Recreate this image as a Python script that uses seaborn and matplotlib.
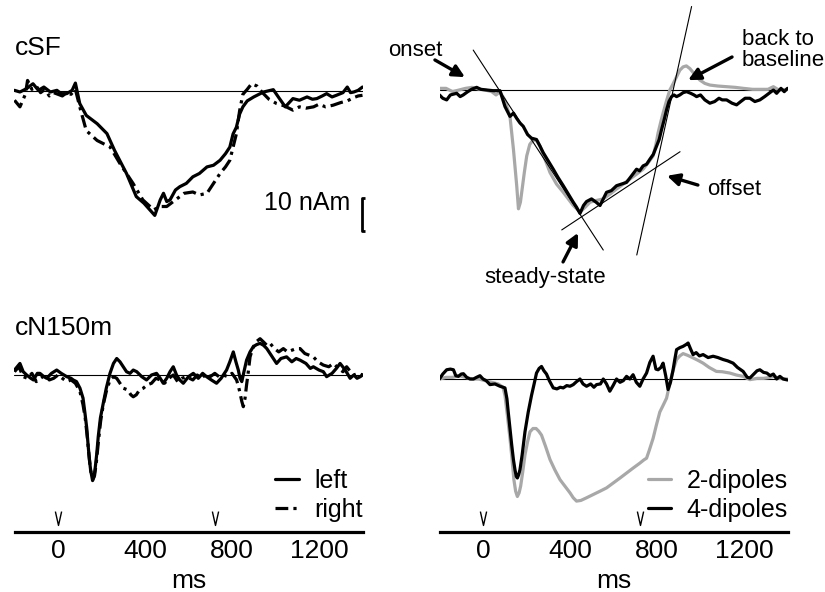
import numpy as np
import matplotlib
matplotlib.use('Agg')
import matplotlib.pyplot as plt
from matplotlib.path import Path
import seaborn as sns

# ---- data (ms, nAm) ----
csf_left_t = [-200, -175, -145, -115, -90, -65, -35, -5, 15, 40, 65, 80, 100, 130, 180, 225, 260, 315, 360, 395,
              445, 470, 485, 500, 515, 540, 560, 590, 620, 650, 685, 715, 745, 770, 790, 805, 820, 835, 850, 870,
              900, 945, 990, 1015, 1045, 1080, 1110, 1145, 1170, 1190, 1215, 1235, 1260, 1280, 1310, 1330, 1345,
              1360, 1380, 1400]
csf_left_v = [0.2, -0.3, 0.7, 2.2, 0.2, 1.2, -0.3, 0.2, -0.8, -0.8, 0.2, 2.4, -3.8, -7.4, -9.9, -12.9, -18, -25, -32, -34,
              -37.7, -33, -31, -33.5, -33, -30, -29, -28, -26, -25, -23, -22.5, -21, -19, -17, -13, -11, -7, -4.8, -3,
              -1.8, -0.3, 0.4, -2, -4.8, -2.3, -2.8, -1.8, -2.5, -2.3, -1.5, -0.8, -1.8, -1.3, -0.5, 1.2, -0.5,
              -0.3, 0.2, 1.2]

csf_right_t = [-200, -175, -150, -140, -120, -100, -80, -60, -40, -20, 0, 20, 40, 60, 80, 100, 130, 180, 240, 285,
               345, 390, 440, 470, 500, 540, 580, 620, 650, 685, 715, 745, 770, 790, 805, 820, 835, 850, 870, 890,
               915, 940, 970, 1005, 1040, 1080, 1110, 1140, 1175, 1200, 1230, 1265, 1300, 1330, 1360, 1380, 1400]
csf_right_v = [-2.8, -4.8, -1, 3.2, 0.5, 1.5, -0.5, 0.5, -1.5, -0.5, -1, -1.5, -0.5, -1, 0.5, -4.8, -12, -15, -17, -22,
               -28, -33, -36, -35, -35, -33, -31, -30.6, -31.5, -31, -28, -25, -23, -21, -17, -13, -6, -1, 0.5, 2.2,
               1.5, -0.5, -2.5, -3.8, -4.5, -5.8, -4.8, -5.2, -4.8, -4.0, -4.8, -4.3, -3.5, -3.0, -2.0, -1.5, -1.3]

csf_4dip_t = [-200, -185, -167, -150, -121, -105, -91, -70, -50, -29, -10, 17, 45, 78, 101, 124, 140, 155, 170, 185,
              205, 223, 246, 262, 277, 300, 323, 345, 369, 392, 415, 430, 446, 462, 476, 499, 520, 538, 553, 568,
              590, 614, 637, 660, 683, 706, 720, 736, 752, 767, 783, 798, 810, 821, 833, 844, 855, 867, 878, 890,
              905, 920, 936, 955, 970, 982, 1000, 1020, 1043, 1065, 1085, 1100, 1120, 1145, 1166, 1185, 1205, 1227,
              1250, 1273, 1295, 1315, 1335, 1350, 1370, 1385, 1400]
csf_4dip_v = [-1.5, -2.5, -3, -1.5, -1, -2, -1.5, -0.5, 0.3, 0.8, 0.2, 0, -0.2, -0.2, -5, -8, -7, -8.6, -10, -11,
              -13.5, -14.6, -15, -17, -19, -21.5, -24, -26.5, -29, -31.5, -34, -35.5, -37.4, -35, -33.8, -33, -34, -35, -33, -31,
              -30.5, -29, -28.5, -28, -26, -24, -24.5, -23, -22.5, -21, -19.5, -17, -15, -12, -9, -6, -3.5, -2, -1.5, -2,
              -1.5, -0.8, -0.5, -1, -1.5, -2, -1.5, -3, -4, -3.5, -2.5, -3, -3, -4, -4.5, -3.5, -2.5, -2.5,
              -3.5, -3, -2, -1, 0, -1, 0.5, -0.5, 0.5]

csf_2dip_t = [-200, -170, -140, -110, -80, -50, -20, 10, 40, 60, 78, 100, 124, 140, 155, 163, 172, 180, 190, 201,
              215, 232, 248, 262, 285, 308, 338, 369, 392, 415, 446, 470, 492, 520, 553, 585, 614, 645, 675, 706,
              736, 760, 782, 795, 805, 818, 828, 845, 859, 875, 890, 905, 920, 935, 951, 970, 997, 1020, 1043, 1080,
              1120, 1160, 1197, 1240, 1280, 1310, 1335, 1360, 1400]
csf_2dip_v = [0.5, 0.5, -0.5, 0, 0.5, 0.8, 0.3, 0, -0.5, -1.5, -0.5, -3, -8, -18, -29, -36, -34, -30, -25, -20,
              -16.5, -15, -15.5, -17, -21, -25, -28.5, -31, -33, -35, -37, -35.5, -34, -33.5, -33, -31.5, -30, -28.5, -27, -25.5,
              -24, -22, -20, -16.5, -13, -9.5, -7, -3, 0, 2, 4, 6, 7, 7.3, 6.5, 5, 3, 2, 1.5, 1.2,
              1, 0.8, 0.5, 0.2, 0.2, 0.2, 1, 0, 0.2]

n150_left_t = [-200, -175, -160, -144, -125, -113, -95, -83, -65, -52, -30, -6, 15, 40, 60, 70, 85, 101, 115, 124,
               132, 139, 145, 150, 159, 165, 170, 178, 185, 195, 208, 222, 239, 255, 270, 285, 300, 315, 331, 346,
               362, 385, 407, 430, 453, 470, 484, 500, 515, 530, 545, 560, 576, 600, 622, 645, 665, 683, 705, 729,
               750, 775, 790, 806, 818, 829, 837, 845, 855, 867, 883, 898, 913, 929, 945, 960, 980, 1005, 1025, 1051,
               1075, 1095, 1113, 1140, 1160, 1174, 1200, 1220, 1235, 1260, 1280, 1297, 1315, 1330, 1343, 1360, 1375,
               1390, 1400]
n150_left_v = [1.5, 3.5, 1, 0, -1, -1.5, 0.5, 0.5, -0.5, -1, 0.5, 1.5, 0.5, -0.5, -1, -1.5, -2, -4, -7, -11.6,
               -16, -21.7, -26, -28.8, -32, -31, -28.8, -24, -18.7, -13, -8.6, -4, 0.5, 3.5, 5, 4, 2.5, 1, 0.5, 1.5,
               1, -0.5, -1.5, 0, 0.5, -1, -2.5, -1, 1, 2.5, 0, -1.5, -2.5, -0.5, 0.5, -1, 0.5, -0.5, -1.5, -2.5,
               -1, 1.5, 4, 7, 4, 1.5, -1, -2, 1, 4.5, 7, 8.6, 9.2, 9.6, 9, 8, 6, 3.5, 5, 5.5,
               4, 5, 4.5, 3.5, 2, 2.5, 1.5, 1, -0.5, 0.5, 2, 3.5, 2, 0.5, -1, 0, -1,
               -0.5, 0]

n150_right_t = [-200, -180, -160, -140, -120, -100, -80, -60, -40, -20, 0, 20, 40, 60, 80, 101, 115, 125, 135, 142,
                150, 160, 168, 177, 186, 196, 208, 222, 239, 255, 270, 285, 300, 320, 335, 346, 360, 375, 392, 410,
                430, 450, 470, 490, 510, 530, 550, 570, 590, 620, 640, 660, 683, 700, 721, 740, 760, 780, 800, 821,
                830, 837, 845, 852, 860, 867, 875, 883, 895, 910, 929, 945, 960, 975, 995, 1015, 1036, 1055, 1075, 1095,
                1113, 1135, 1155, 1174, 1195, 1220, 1245, 1266, 1290, 1310, 1327, 1345, 1360, 1380, 1400]
n150_right_v = [1, 2.5, -0.5, -1, 0.5, -2, -1, 0, -1.5, -1, 0, -1, -2, -1.5, -2.5, -5, -9, -13, -19, -24,
                -29, -31.5, -30.5, -26, -20, -14, -9, -5, -1.5, -0.5, -1, -2.5, -4, -4.5, -6, -6.6, -6, -4.5, -4, -3,
                -2.5, -1, -1.5, -2.5, -1, 0, -2, -1, -0.5, -1.5, 0, -1, 0.5, -0.5, 0.5, -0.5, 0, -0.5, 0.5, -1.5,
                -3.5, -5.5, -8, -9.6, -7, -3, 1, 5.5, 8, 10, 11, 10, 9, 9.6, 8, 7, 8, 7, 7.5, 8,
                8, 6.5, 6, 5.5, 4, 3, 2.5, 3.5, 2, 1, 2.5, 1, 0, 0.5, 0]

n150_4dip_t = [-200, -185, -167, -150, -136, -125, -113, -100, -90, -75, -60, -44, -30, -14, 0, 15, 32, 55, 78, 92,
               101, 110, 116, 124, 132, 140, 147, 153, 158, 164, 170, 180, 193, 208, 223, 235, 246, 258, 269, 280,
               292, 305, 323, 340, 355, 369, 385, 400, 415, 430, 446, 460, 476, 495, 510, 522, 540, 553, 568, 583,
               598, 614, 630, 645, 660, 675, 690, 705, 721, 736, 752, 767, 782, 795, 805, 818, 828, 840, 851, 862,
               874, 882, 890, 905, 920, 935, 943, 955, 966, 980, 995, 1012, 1035, 1058, 1080, 1104, 1125, 1150, 1170,
               1196, 1215, 1227, 1245, 1260, 1273, 1290, 1305, 1320, 1335, 1350, 1365, 1380, 1400]
n150_4dip_v = [0, 1.5, 2.8, 3, 2.8, 1, 0.8, 1.5, 1.6, 0.5, 0, 0, 0.5, 1, 0, -0.5, -1.7, -1.5, -2.2, -2.5,
               -2.7, -6, -10, -15, -20, -24.5, -27.5, -29.5, -30, -29, -27.5, -23, -16, -10, -5, -1.5, 1.8, 3.2, 3.8, 2.5,
               1.5, -0.5, -2.7, -3, -2.5, -2.7, -2, -2.2, -1.7, -0.8, 0, -1.5, -2.2, -1.5, -2.5, -1.7, -1.5, 0, -1.5, -3.7,
               -2, 0, -1, -0.5, 0.8, 0, 1.3, -1, -2.2, 0, 1.8, 5, 6.9, 3, 2.8, 3.5, 4.8, 1, -3.2, -1,
               2.8, 6, 8.9, 9.5, 9.9, 10.5, 10.9, 9, 7.4, 8, 7, 7.4, 6.5, 6.9, 6.5, 5.9, 5.5, 4.8, 3.5,
               2.3, 0.5, 0.3, 1.5, 2.5, 2.8, 2, 1.8, 1, 1.5, 0, 0.8, 0, -0.3]

n150_2dip_t = [-200, -170, -140, -110, -80, -50, -20, 10, 40, 70, 92, 101, 112, 124, 133, 142, 150, 158, 166, 173,
               183, 193, 205, 216, 230, 244, 256, 269, 288, 308, 330, 354, 377, 400, 415, 430, 450, 476, 507, 538,
               568, 599, 630, 660, 690, 721, 740, 752, 765, 782, 797, 813, 828, 844, 855, 867, 878, 890, 905, 920,
               940, 966, 990, 1012, 1040, 1073, 1100, 1135, 1165, 1196, 1227, 1260, 1290, 1320, 1340, 1360, 1400]
n150_2dip_v = [0, 0.5, 0.5, 1, 0.5, 0, 0, -0.5, -1, -1.5, -2.5, -5, -11, -18, -24, -30.5, -34, -35.6, -34.5, -32.5,
               -28, -23, -19, -16, -15, -15, -15.8, -17, -20.5, -24.4, -27.5, -30.5, -32.5, -34.5, -36, -37, -36.8, -36, -35, -34,
               -33, -31.5, -30, -28.5, -27, -25.5, -24.5, -24, -21.5, -18, -14, -10, -8, -5.8, -2.5, 0.8, 3.5, 5.9, 7, 7.7,
               7.2, 6.4, 5.6, 4.8, 3.5, 2.3, 2.2, 1.8, 1.2, 0.8, -0.2, 0.2, 0.2, 0.5, 0.8, 0.2, 0]

# tangent lines used to define the response phases (ms, nAm)
onset_line_t, onset_line_v = [-45, 553], [12.1, -48.5]
steady_line_t, steady_line_v = [362, 906], [-42.4, -18.7]
offset_line_t, offset_line_v = [959, 707], [25.3, -50]

stim_times = [0, 720]
scalebar_nAm = 10
xticks = [0, 400, 800, 1200]

W, H = 825, 592
sns.set_style('white')
plt.rcParams['font.family'] = ['Liberation Sans', 'DejaVu Sans']
plt.rcParams['text.color'] = 'black'
plt.rcParams['axes.labelcolor'] = 'black'
plt.rcParams['xtick.color'] = 'black'

fig = plt.figure(figsize=(W / 100, H / 100), dpi=100)


def rect(x0, y0, x1, y1):
    return [x0 / W, 1 - y1 / H, (x1 - x0) / W, (y1 - y0) / H]


gray = '#a8a8a8'
lw = 2.3
dashdot = (0, (4, 1.6, 1, 1.6))
v_marker = Path([(-0.45, 1), (0, -1), (0.45, 1)], [Path.MOVETO, Path.LINETO, Path.LINETO])

ax_tl = fig.add_axes(rect(14.5, 0, 362.5, 290))
ax_tr = fig.add_axes(rect(439.5, 0, 787.5, 290))
ax_bl = fig.add_axes(rect(14.5, 330, 362.5, 532))
ax_br = fig.add_axes(rect(439.5, 330, 787.5, 532))

# cSF left panel
sns.lineplot(x=csf_right_t, y=csf_right_v, ax=ax_tl, color='black', linewidth=lw, linestyle=dashdot)
sns.lineplot(x=csf_left_t, y=csf_left_v, ax=ax_tl, color='black', linewidth=lw)

# cSF right panel
sns.lineplot(x=csf_2dip_t, y=csf_2dip_v, ax=ax_tr, color=gray, linewidth=lw)
sns.lineplot(x=csf_4dip_t, y=csf_4dip_v, ax=ax_tr, color='black', linewidth=lw)
for lt, lv in [(onset_line_t, onset_line_v), (steady_line_t, steady_line_v), (offset_line_t, offset_line_v)]:
    ax_tr.plot(lt, lv, color='black', lw=0.8, clip_on=False)

# cN150m panels
sns.lineplot(x=n150_left_t, y=n150_left_v, ax=ax_bl, color='black', linewidth=lw, label='left')
sns.lineplot(x=n150_right_t, y=n150_right_v, ax=ax_bl, color='black', linewidth=lw, linestyle=dashdot, label='right')
sns.lineplot(x=n150_2dip_t, y=n150_2dip_v, ax=ax_br, color=gray, linewidth=lw, label='2-dipoles')
sns.lineplot(x=n150_4dip_t, y=n150_4dip_v, ax=ax_br, color='black', linewidth=lw, label='4-dipoles')

ax_tl.set_ylim((91 - 290) / 3.3, 91 / 3.3)
ax_tr.set_ylim((90 - 290) / 3.3, 90 / 3.3)
ax_bl.set_ylim((375 - 532) / 3.3, (375 - 330) / 3.3)
ax_br.set_ylim((379 - 532) / 3.3, (379 - 330) / 3.3)

for ax in (ax_tl, ax_tr, ax_bl, ax_br):
    ax.set_xlim(-200, 1400)
    ax.axhline(0, color='black', lw=0.8, zorder=1)
    for s in ('left', 'right', 'top'):
        ax.spines[s].set_visible(False)
    ax.set_yticks([])
    ax.set_ylabel('')
    ax.patch.set_alpha(0)

for ax in (ax_tl, ax_tr):
    ax.spines['bottom'].set_visible(False)
    ax.set_xticks([])

for ax in (ax_bl, ax_br):
    ax.spines['bottom'].set_linewidth(2.3)
    ax.spines['bottom'].set_color('black')
    ax.set_xticks(xticks)
    ax.tick_params(axis='x', direction='in', length=3, width=2, labelsize=19, pad=5)
    ax.set_xlabel('ms', fontsize=19, labelpad=4)
    ax.plot(stim_times, [0.069] * len(stim_times), transform=ax.get_xaxis_transform(), linestyle='none',
            marker=v_marker, markersize=10, markerfacecolor='none', markeredgecolor='black',
            markeredgewidth=1.0, clip_on=False, label='_nolegend_')
    ax.legend(loc='lower right', bbox_to_anchor=(1.0, 0.05), frameon=False, fontsize=18,
              handlelength=0.95, handletextpad=0.6, labelspacing=0.2, borderaxespad=0, borderpad=0)

# scale bar
sb_t, sb_top = 1398, -32.4
ax_tl.plot([sb_t + 14, sb_t, sb_t, sb_t + 14], [sb_top, sb_top, sb_top - scalebar_nAm, sb_top - scalebar_nAm],
           color='black', lw=2, clip_on=False, solid_capstyle='butt')
ax_tl.text(1343, -34, '10 nAm', ha='right', va='center', fontsize=18)

# annotations
arrow = dict(arrowstyle='-|>', color='black', lw=2.4, mutation_scale=18, shrinkA=0, shrinkB=0)
ax_tr.text(-313, 12.1, 'onset', ha='center', va='center', fontsize=16)
ax_tr.annotate('', xy=(-83, 3.9), xytext=(-221, 9.1), arrowprops=arrow, annotation_clip=False)
ax_tr.text(1190, 12.1, 'back to\nbaseline', ha='left', va='center', fontsize=16, linespacing=1.0)
ax_tr.annotate('', xy=(943, 3.0), xytext=(1145, 10), arrowprops=arrow, annotation_clip=False)
ax_tr.text(1030, -30.3, 'offset', ha='left', va='center', fontsize=16)
ax_tr.annotate('', xy=(846, -26), xytext=(988, -28.8), arrowprops=arrow, annotation_clip=False)
ax_tr.text(285, -56.7, 'steady-state', ha='center', va='center', fontsize=16)
ax_tr.annotate('', xy=(437, -43.3), xytext=(368, -52.1), arrowprops=arrow, annotation_clip=False)

fig.text(15 / W, 1 - 48 / H, 'cSF', ha='left', va='center', fontsize=19)
fig.text(15 / W, 1 - 328 / H, 'cN150m', ha='left', va='center', fontsize=19)

fig.savefig('out.png', dpi=100)
